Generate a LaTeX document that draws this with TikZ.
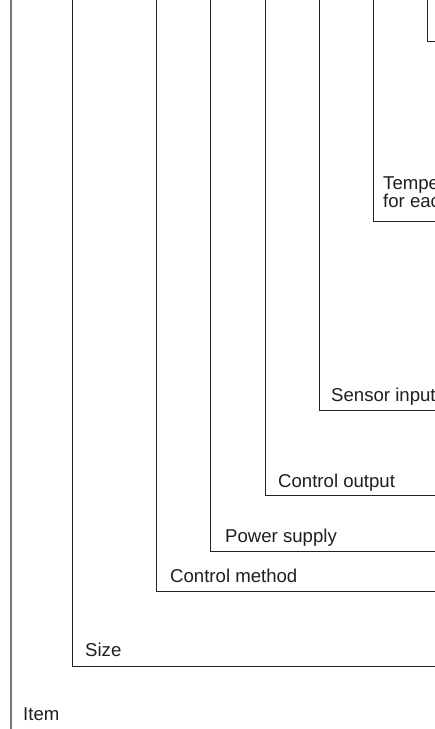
\documentclass[tikz,border=0pt]{standalone}
\usepackage{fontspec}
\setmainfont{Liberation Sans}
\usepackage{tikz}
\usetikzlibrary{positioning}
\definecolor{lineDark}{RGB}{34,34,34}
\definecolor{lineGrey}{RGB}{120,120,120}
\definecolor{textDark}{RGB}{30,30,30}

\begin{document}
\begin{tikzpicture}[x=1pt, y=-1pt,
    bracket/.style={lineDark, line width=1pt},
    codelabel/.style={textDark, inner sep=0pt, anchor=base west,
      font=\fontsize{18.6}{15.5}\selectfont, align=left}]
    \useasboundingbox (0,0) rectangle (435,729);
    \clip (0,0) rectangle (435,729);
    % --- item axis ---
    \coordinate (item-top) at (11,0);
    \coordinate (item-bot) at (11,729);
    \draw[lineGrey, line width=1.5pt] (item-top) -- (item-bot);
    \node[codelabel] (item) at (23,720) {Item};
    % --- size ---
    \coordinate (size-top) at (72.5,0);
    \coordinate (size-corner) at (72.5,666);
    \coordinate (size-end) at (435,666);
    \draw[bracket] (size-top) -- (size-corner) -- (size-end);
    \node[codelabel] (size) at (85,656) {Size};
    % --- control method ---
    \coordinate (method-top) at (156,0);
    \coordinate (method-corner) at (156,591);
    \coordinate (method-end) at (435,591);
    \draw[bracket] (method-top) -- (method-corner) -- (method-end);
    \node[codelabel] (method) at (170,582) {Control method};
    % --- power supply ---
    \coordinate (power-top) at (210,0);
    \coordinate (power-corner) at (210,551);
    \coordinate (power-end) at (435,551);
    \draw[bracket] (power-top) -- (power-corner) -- (power-end);
    \node[codelabel] (power) at (225,542) {Power supply};
    % --- control output ---
    \coordinate (output-top) at (265,0);
    \coordinate (output-corner) at (265,495);
    \coordinate (output-end) at (435,495);
    \draw[bracket] (output-top) -- (output-corner) -- (output-end);
    \node[codelabel] (output) at (278,487) {Control output};
    % --- sensor input ---
    \coordinate (sensor-top) at (319,0);
    \coordinate (sensor-corner) at (319,410);
    \coordinate (sensor-end) at (435,410);
    \draw[bracket] (sensor-top) -- (sensor-corner) -- (sensor-end);
    \node[codelabel] (sensor) at (331,401) {Sensor input};
    % --- temperature (two lines, base is the lower line) ---
    \coordinate (temp-top) at (373,0);
    \coordinate (temp-corner) at (373,221);
    \coordinate (temp-end) at (435,221);
    \draw[bracket] (temp-top) -- (temp-corner) -- (temp-end);
    \node[codelabel] (temp) at (383,207.5) {Tempe\\for eac};
    % --- top-right bracket ---
    \coordinate (last-top) at (427,0);
    \coordinate (last-corner) at (427,41);
    \coordinate (last-end) at (435,41);
    \draw[bracket] (last-top) -- (last-corner) -- (last-end);
\end{tikzpicture}
\end{document}
